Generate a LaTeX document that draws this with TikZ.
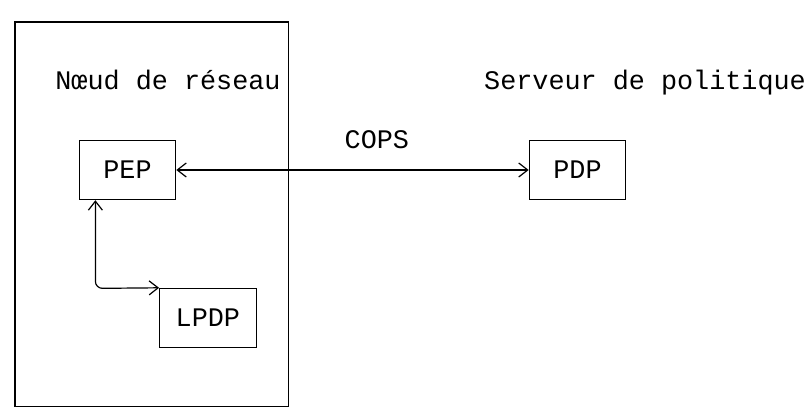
\documentclass[tikz,border=0pt]{standalone}
\usepackage{fontspec}
\setmonofont{Liberation Mono}
\usetikzlibrary{arrows.meta}
\begin{document}
\begin{tikzpicture}[x=1pt,y=1pt,
  every node/.style={font=\ttfamily\fontsize{26.8}{29.6}\selectfont, inner sep=0pt},
  box/.style={draw, line width=1.2pt, minimum width=96.4pt, minimum height=59.2pt},
  link/.style={line width=1.2pt, {Straight Barb[length=9pt,width=14pt]}-{Straight Barb[length=9pt,width=14pt]}},
  lbl/.style={anchor=base west}]
\useasboundingbox (0,0) rectangle (809,417);
\node[draw, line width=1.2pt, minimum width=273.2pt, minimum height=384.8pt] (net) at (151.6,202.6) {};
\node[lbl] (netlbl) at (55.2,327.3) {Nœud de réseau};
\node[lbl] (srvlbl) at (484,327.3) {Serveur de politique};
\node[lbl] (cops) at (344.5,268.1) {COPS};
\node[box] (PEP) at (127.5,247) {PEP};
\node[box] (PDP) at (577.5,247) {PDP};
\node[box] (LPDP) at (207.9,99) {LPDP};
\coordinate (bend) at (95.4,128.6);
\draw[link] (PEP.east) -- (PDP.west);
\draw[link, rounded corners=7pt] (PEP.south -| bend) -- (bend) -- (LPDP.north west);
\end{tikzpicture}
\end{document}
